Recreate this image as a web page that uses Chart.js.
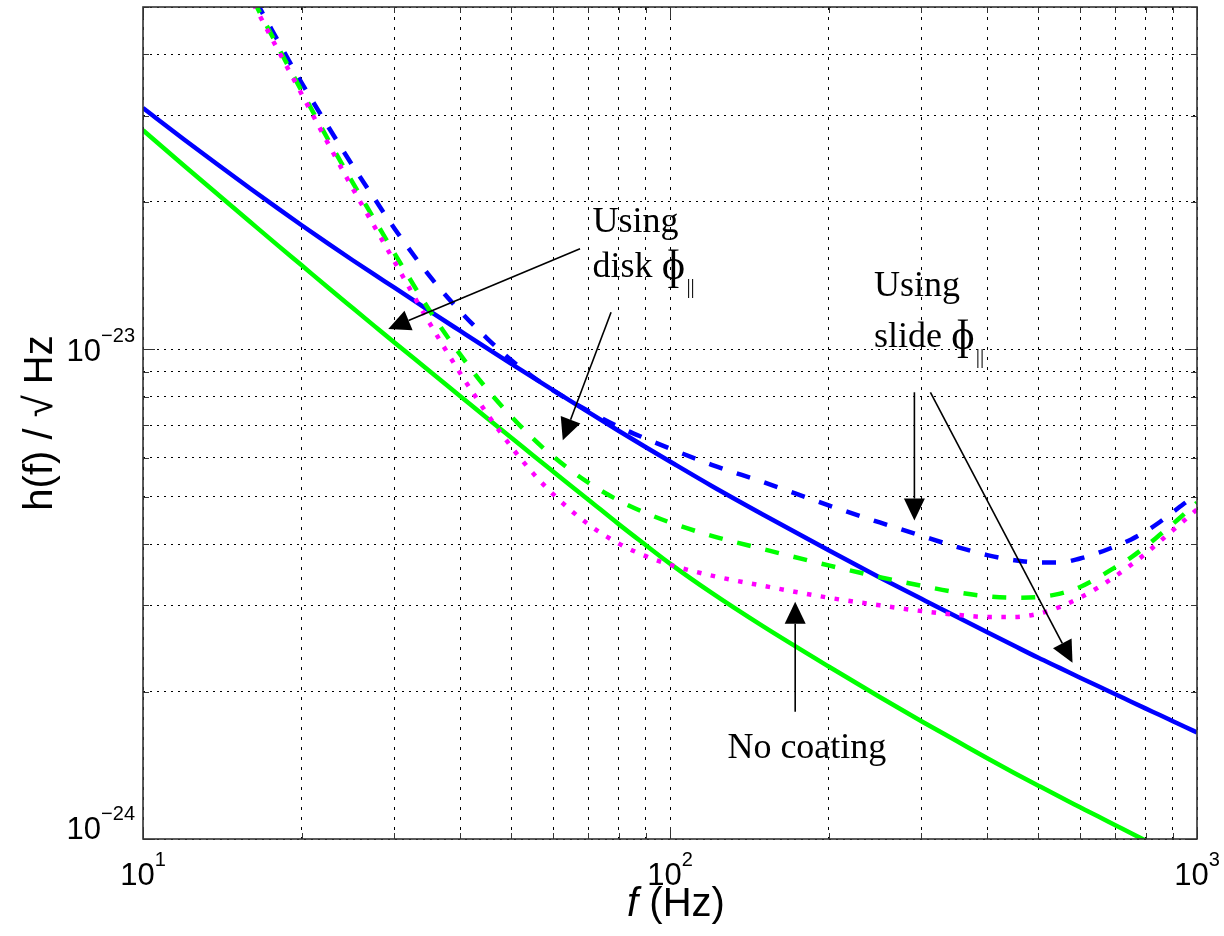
<!DOCTYPE html>
<html lang="en">
<head>
<meta charset="UTF-8">
<title>h(f) / sqrt Hz vs f</title>
<script src="https://cdn.jsdelivr.net/npm/chart.js"></script>
<style>
  html, body { margin: 0; padding: 0; background: #fff; }
  #wrap { width: 1224px; height: 936px; }
</style>
</head>
<body>
<div id="wrap"><canvas id="myChart"></canvas></div>
<script>
// frequency samples (Hz)
const freq = [10, 12, 14, 16, 18, 20, 22.5, 25, 27.5, 30, 35, 40, 45, 50, 55, 60, 70, 80, 90, 100,
  120, 150, 200, 250, 300, 350, 400, 450, 500, 550, 600, 650, 700, 750, 800, 850, 900, 950, 1000];

// strain noise curves, h(f) in 1/sqrt(Hz)
const blueSolid = [3.11e-23, 2.676e-23, 2.364e-23, 2.127e-23, 1.942e-23, 1.792e-23, 1.641e-23, 1.520e-23, 1.420e-23, 1.336e-23,
  1.197e-23, 1.090e-23, 1.004e-23, 9.34e-24, 8.75e-24, 8.25e-24, 7.44e-24, 6.81e-24, 6.31e-24, 5.90e-24,
  5.26e-24, 4.60e-24, 3.886e-24, 3.42e-24, 3.093e-24, 2.842e-24, 2.643e-24, 2.48e-24, 2.344e-24, 2.233e-24,
  2.135e-24, 2.05e-24, 1.975e-24, 1.907e-24, 1.846e-24, 1.791e-24, 1.740e-24, 1.693e-24, 1.651e-24];
const greenSolid = [2.80e-23, 2.365e-23, 2.053e-23, 1.817e-23, 1.632e-23, 1.484e-23, 1.334e-23, 1.214e-23, 1.115e-23, 1.032e-23,
  9.02e-24, 8.02e-24, 7.23e-24, 6.60e-24, 6.07e-24, 5.63e-24, 4.93e-24, 4.39e-24, 3.98e-24, 3.65e-24,
  3.18e-24, 2.72e-24, 2.25e-24, 1.95e-24, 1.74e-24, 1.585e-24, 1.462e-24, 1.364e-24, 1.285e-24, 1.218e-24,
  1.161e-24, 1.111e-24, 1.067e-24, 1.027e-24, 9.92e-25, 9.60e-25, 9.31e-25, 9.04e-25, 8.79e-25];
const blueDashed = [1.55e-22, 1.03e-22, 7.25e-23, 5.40e-23, 4.28e-23, 3.50e-23, 2.84e-23, 2.37e-23, 2.03e-23, 1.765e-23,
  1.41e-23, 1.195e-23, 1.052e-23, 9.50e-24, 8.78e-24, 8.24e-24, 7.48e-24, 6.94e-24, 6.57e-24, 6.27e-24,
  5.81e-24, 5.36e-24, 4.80e-24, 4.43e-24, 4.16e-24, 3.95e-24, 3.80e-24, 3.71e-24, 3.67e-24, 3.67e-24,
  3.74e-24, 3.84e-24, 3.96e-24, 4.09e-24, 4.25e-24, 4.44e-24, 4.65e-24, 4.86e-24, 5.04e-24];
const greenDashed = [1.57e-22, 1.013e-22, 7.11e-23, 5.30e-23, 4.16e-23, 3.37e-23, 2.67e-23, 2.19e-23, 1.84e-23, 1.57e-23,
  1.199e-23, 9.75e-24, 8.28e-24, 7.29e-24, 6.57e-24, 6.04e-24, 5.34e-24, 4.91e-24, 4.63e-24, 4.43e-24,
  4.16e-24, 3.91e-24, 3.62e-24, 3.425e-24, 3.29e-24, 3.19e-24, 3.13e-24, 3.11e-24, 3.12e-24, 3.17e-24,
  3.27e-24, 3.42e-24, 3.59e-24, 3.76e-24, 3.96e-24, 4.18e-24, 4.40e-24, 4.63e-24, 4.86e-24];
const magentaDotted = [1.47e-22, 9.68e-23, 6.90e-23, 5.21e-23, 4.10e-23, 3.32e-23, 2.62e-23, 2.13e-23, 1.78e-23, 1.51e-23,
  1.13e-23, 8.93e-24, 7.38e-24, 6.32e-24, 5.58e-24, 5.06e-24, 4.39e-24, 4.01e-24, 3.78e-24, 3.63e-24,
  3.45e-24, 3.29e-24, 3.11e-24, 3.00e-24, 2.92e-24, 2.87e-24, 2.84e-24, 2.84e-24, 2.884e-24, 2.98e-24,
  3.11e-24, 3.265e-24, 3.44e-24, 3.63e-24, 3.83e-24, 4.05e-24, 4.27e-24, 4.49e-24, 4.71e-24];

// grid / tick positions
const xGridTicks = [10, 20, 30, 40, 50, 60, 70, 80, 90, 100, 200, 300, 400, 500, 600, 700, 800, 900, 1000];
const yGridTicks = [1e-24, 2e-24, 3e-24, 4e-24, 5e-24, 6e-24, 7e-24, 8e-24, 9e-24, 1e-23, 2e-23, 3e-23, 4e-23, 5e-23];
const xLabelValues = [10, 100, 1000];
const xLabelExps = ['1', '2', '3'];
const yLabelValues = [1e-24, 1e-23];
const yLabelExps = ['\u221224', '\u221223'];

// annotations, anchored in data coordinates [f, h]
const notes = [
  { text: 'Using', at: [71.3, 1.732e-23] },
  { text: 'disk ', phi: true, at: [71.3, 1.402e-23] },
  { text: 'Using', at: [243.8, 1.287e-23] },
  { text: 'slide ', phi: true, at: [243.8, 1.009e-23] },
  { text: 'No coating', at: [128.5, 1.462e-24] }
];
const arrows = [
  { from: [67.5, 1.604e-23], to: [29.2, 1.10e-23] },
  { from: [77.3, 1.19e-23], to: [62.6, 6.52e-24] },
  { from: [290.9, 8.17e-24], to: [290.9, 4.47e-24] },
  { from: [312, 8.17e-24], to: [580.5, 2.29e-24] },
  { from: [172.8, 1.82e-24], to: [172.8, 3.05e-24] }
];

const SANS = '"Liberation Sans", Arial, Helvetica, sans-serif';
const SERIF = '"Liberation Serif", "Times New Roman", "DejaVu Serif", serif';

function series(label, values, color, dash, order) {
  return {
    label: label,
    data: freq.map((f, i) => ({ x: f, y: values[i] })),
    borderColor: color,
    borderWidth: 4.5,
    borderDash: dash,
    borderCapStyle: 'butt',
    pointRadius: 0,
    fill: false,
    cubicInterpolationMode: 'monotone',
    clip: 0,
    order: order
  };
}

function isDecade(v) {
  const l = Math.log10(v);
  return Math.abs(l - Math.round(l)) < 1e-9;
}

function arrow(ctx, x1, y1, x2, y2) {
  const ang = Math.atan2(y2 - y1, x2 - x1);
  const L = 22, W = 10.5;
  const bx = x2 - L * Math.cos(ang), by = y2 - L * Math.sin(ang);
  ctx.beginPath();
  ctx.moveTo(x1, y1);
  ctx.lineTo(bx, by);
  ctx.stroke();
  ctx.beginPath();
  ctx.moveTo(x2, y2);
  ctx.lineTo(bx + W * Math.sin(ang), by - W * Math.cos(ang));
  ctx.lineTo(bx - W * Math.sin(ang), by + W * Math.cos(ang));
  ctx.closePath();
  ctx.fill();
}

// "10" with a raised exponent; x is the left edge
function powerLabel(ctx, exp, x, baseline) {
  ctx.font = '31px ' + SANS;
  ctx.fillText('10', x, baseline);
  const w = ctx.measureText('10').width;
  ctx.font = '20px ' + SANS;
  ctx.fillText(exp, x + w, baseline - 19);
}
function powerWidth(ctx, exp) {
  ctx.font = '31px ' + SANS;
  const w = ctx.measureText('10').width;
  ctx.font = '20px ' + SANS;
  return w + ctx.measureText(exp).width;
}

const overlay = {
  id: 'overlay',
  afterDraw(chart) {
    const { ctx, chartArea: a } = chart;
    const x = chart.scales.x, y = chart.scales.y;
    ctx.save();

    // axes box and inward ticks on all four sides
    ctx.strokeStyle = '#333';
    ctx.lineWidth = 1;
    xGridTicks.forEach(v => {
      const px = Math.round(x.getPixelForValue(v)) + 0.5;
      const len = isDecade(v) ? 12 : 6;
      ctx.beginPath();
      ctx.moveTo(px, a.bottom); ctx.lineTo(px, a.bottom - len);
      ctx.moveTo(px, a.top); ctx.lineTo(px, a.top + len);
      ctx.stroke();
    });
    yGridTicks.forEach(v => {
      const py = Math.round(y.getPixelForValue(v)) + 0.5;
      const len = isDecade(v) ? 12 : 6;
      ctx.beginPath();
      ctx.moveTo(a.left, py); ctx.lineTo(a.left + len, py);
      ctx.moveTo(a.right, py); ctx.lineTo(a.right - len, py);
      ctx.stroke();
    });
    ctx.lineWidth = 1.6;
    ctx.strokeRect(a.left, a.top, a.right - a.left, a.bottom - a.top);

    // tick labels
    ctx.fillStyle = '#000';
    ctx.textAlign = 'left';
    ctx.textBaseline = 'alphabetic';
    xLabelValues.forEach((v, i) => {
      const px = x.getPixelForValue(v);
      const w = powerWidth(ctx, xLabelExps[i]);
      powerLabel(ctx, xLabelExps[i], px - w / 2, a.bottom + 46);
    });
    yLabelValues.forEach((v, i) => {
      const py = y.getPixelForValue(v);
      const w = powerWidth(ctx, yLabelExps[i]);
      powerLabel(ctx, yLabelExps[i], a.left - 8 - w, Math.min(py + 11.5, a.bottom));
    });

    // axis titles
    ctx.font = 'italic 40px ' + SANS;
    const wf = ctx.measureText('f').width;
    ctx.font = '40px ' + SANS;
    const wr = ctx.measureText(' (Hz)').width;
    const tx = (a.left + a.right) / 2 + 6 - (wf + wr) / 2;
    ctx.font = 'italic 40px ' + SANS;
    ctx.fillText('f', tx, a.bottom + 77);
    ctx.font = '40px ' + SANS;
    ctx.fillText(' (Hz)', tx + wf, a.bottom + 77);

    ctx.save();
    ctx.translate(52, (a.top + a.bottom) / 2);
    ctx.rotate(-Math.PI / 2);
    ctx.textAlign = 'center';
    ctx.font = '40px ' + SANS;
    ctx.fillText('h(f) / \u221a Hz', 0, 0);
    ctx.restore();

    // annotation arrows
    ctx.strokeStyle = '#000';
    ctx.fillStyle = '#000';
    ctx.lineWidth = 1.6;
    arrows.forEach(r => {
      arrow(ctx,
        x.getPixelForValue(r.from[0]), y.getPixelForValue(r.from[1]),
        x.getPixelForValue(r.to[0]), y.getPixelForValue(r.to[1]));
    });

    // annotation text; the loss angle is a tall phi with a "||" subscript
    ctx.textAlign = 'left';
    notes.forEach(n => {
      const px = x.getPixelForValue(n.at[0]);
      const py = y.getPixelForValue(n.at[1]);
      ctx.font = '36px ' + SERIF;
      ctx.fillText(n.text, px, py);
      if (n.phi) {
        let cx = px + ctx.measureText(n.text).width;
        ctx.font = '43px ' + SERIF;
        ctx.fillText('\u0278', cx, py + 2);
        cx += ctx.measureText('\u0278').width;
        ctx.font = '21px ' + SERIF;
        ctx.fillText('||', cx + 1, py + 16);
      }
    });

    ctx.restore();
  }
};

const ctx = document.getElementById('myChart').getContext('2d');
new Chart(ctx, {
  type: 'line',
  data: {
    datasets: [
      series('magenta dotted', magentaDotted, '#ff00ff', [4.5, 9.5], 0),
      series('green dashed', greenDashed, '#00ff00', [14, 15], 1),
      series('blue dashed', blueDashed, '#0000ff', [14, 15], 2),
      series('green solid', greenSolid, '#00ff00', [], 3),
      series('blue solid', blueSolid, '#0000ff', [], 4)
    ]
  },
  options: {
    responsive: true,
    maintainAspectRatio: false,
    animation: false,
    layout: { padding: { left: 143, right: 27, top: 7, bottom: 97 } },
    plugins: {
      legend: { display: false },
      tooltip: { enabled: false }
    },
    scales: {
      x: {
        type: 'logarithmic',
        min: 10,
        max: 1000,
        afterBuildTicks: s => { s.ticks = xGridTicks.map(v => ({ value: v })); },
        ticks: { display: false, autoSkip: false },
        grid: { color: '#000', lineWidth: 1, drawTicks: false },
        border: { display: false, dash: [3, 7] }
      },
      y: {
        type: 'logarithmic',
        min: 1e-24,
        max: 5e-23,
        afterBuildTicks: s => { s.ticks = yGridTicks.map(v => ({ value: v })); },
        ticks: { display: false, autoSkip: false },
        grid: { color: '#000', lineWidth: 1, drawTicks: false },
        border: { display: false, dash: [2, 5] }
      }
    }
  },
  plugins: [overlay]
});
</script>
</body>
</html>
